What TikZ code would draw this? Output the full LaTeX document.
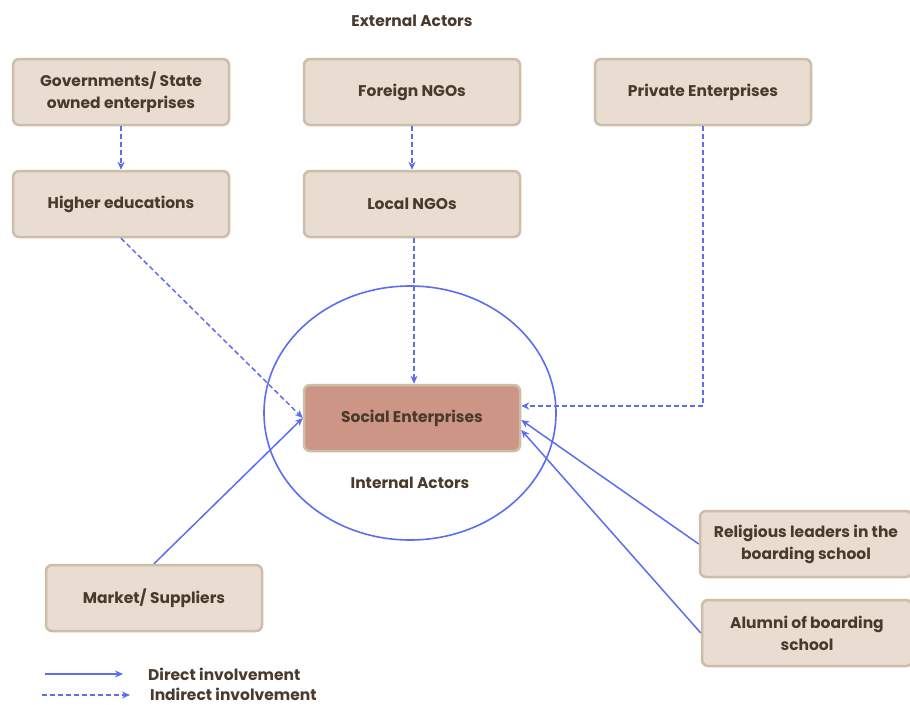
\documentclass[tikz,border=0pt]{standalone}
\usepackage{fontspec}
\setmainfont{Poppins}
\usetikzlibrary{arrows.meta,positioning}
\definecolor{boxfill}{HTML}{E8DDD0}
\definecolor{boxline}{HTML}{CDBDA9}
\definecolor{sefill}{HTML}{CD9585}
\definecolor{txt}{HTML}{4A3A2C}
\definecolor{arr}{HTML}{5B6EF2}
\tikzset{
  actor/.style={draw=boxline, line width=2.5pt, fill=boxfill, rounded corners=6pt,
    minimum width=216pt, minimum height=66pt, align=center, text=txt,
    font=\fontsize{15.5}{22}\selectfont\bfseries},
  direct/.style={draw=arr, line width=1.5pt, -{Stealth[length=8pt,width=7pt]}},
  indirect/.style={draw=arr, line width=1.5pt, dash pattern=on 5pt off 3pt, -{Stealth[length=8pt,width=7pt]}},
  lbl/.style={text=txt, font=\fontsize{15.5}{18}\selectfont\bfseries, inner sep=0pt},
}
\begin{document}
\begin{tikzpicture}[x=1pt,y=-1pt]
\useasboundingbox (0,0) rectangle (910,704);
\fill[white] (0,0) rectangle (910,704);

\node[lbl] (ext) at (412,21) {External Actors};

\node[actor] (gov) at (121,92) {Governments/ State\\owned enterprises};
\node[actor] (fngo) at (412,92) {Foreign NGOs};
\node[actor] (priv) at (703,92) {Private Enterprises};
\node[actor] (high) at (121,204) {Higher educations};
\node[actor] (lngo) at (412,204) {Local NGOs};

\draw[draw=arr, line width=1.6pt] (410,413) ellipse [x radius=146, y radius=127];
\node[actor, fill=sefill] (se) at (412,418) {Social Enterprises};
\node[lbl] (int) at (410,483) {Internal Actors};

\node[actor] (mkt) at (154,598) {Market/ Suppliers};
\node[actor, minimum width=212pt] (rel) at (806,544) {Religious leaders in the\\boarding school};
\node[actor, minimum width=210pt] (alu) at (807,633) {Alumni of boarding\\school};

\draw[indirect] (gov.south) -- (high.north);
\draw[indirect] (fngo.south) -- (lngo.north);
\draw[indirect] (high.south) -- (se.west);
\draw[indirect] ([xshift=2pt]lngo.south) -- ([xshift=2pt]se.north);
\draw[indirect] (priv.south) |- ([yshift=12pt]se.east);
\draw[direct] (mkt.north) -- (se.west);
\draw[direct] (rel.west) -- ([yshift=-2pt]se.east);
\draw[direct] (alu.west) -- ([yshift=-12pt]se.east);

\coordinate (l1a) at (45,674);
\coordinate (l1b) at (123,674);
\coordinate (l2a) at (42,695);
\coordinate (l2b) at (130,695);
\draw[direct] (l1a) -- (l1b);
\draw[indirect] (l2a) -- (l2b);
\node[lbl, anchor=west] (t1) at (148,674) {Direct involvement};
\node[lbl, anchor=west] (t2) at (150,694) {Indirect involvement};
\end{tikzpicture}
\end{document}
